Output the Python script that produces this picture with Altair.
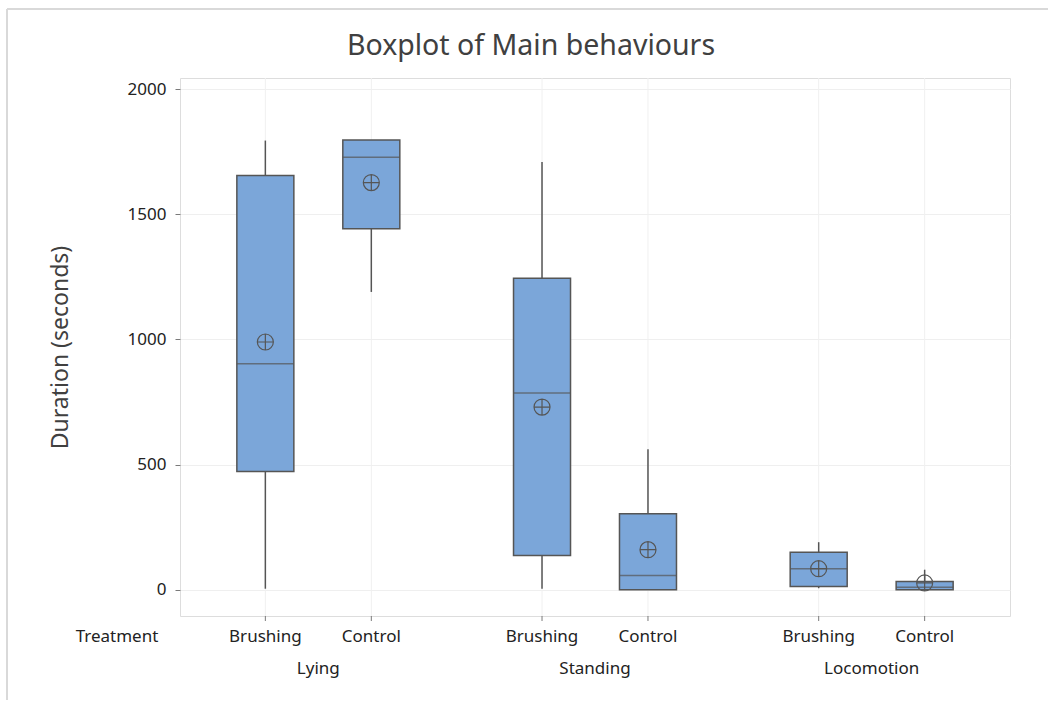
import altair as alt
import pandas as pd

# Summary statistics per behaviour / treatment (seconds)
behaviours = ["Lying", "Lying", "Standing", "Standing", "Locomotion", "Locomotion"]
treatments = ["Brushing", "Control", "Brushing", "Control", "Brushing", "Control"]
whisker_low = [4, 1190, 4, 0, 6, 0]
q1 = [472, 1443, 137, 0, 13, 0]
median = [903, 1728, 786, 57, 84, 10]
q3 = [1655, 1797, 1245, 304, 150, 33]
whisker_high = [1795, 1797, 1709, 561, 190, 80]
mean = [990, 1627, 730, 160, 84, 27]

behaviour_order = ["Lying", "Standing", "Locomotion"]
treatment_order = ["Brushing", "Control"]

df = pd.DataFrame({
    "behaviour": behaviours,
    "treatment": treatments,
    "lo": whisker_low,
    "q1": q1,
    "median": median,
    "q3": q3,
    "hi": whisker_high,
    "mean": mean,
})
groups = pd.DataFrame({"behaviour": behaviour_order})
single = pd.DataFrame({"label": ["Treatment"]})

W, H = 830, 538
FONT = "Noto Sans"
LABEL_SIZE = 17
BOX_FILL = "#7ba6d9"
EDGE = "#555555"
TEXT = "#222222"

x_enc = alt.X("behaviour:N", sort=behaviour_order, axis=None,
              scale=alt.Scale(paddingInner=0.234, paddingOuter=0.117))
xo_enc = alt.XOffset("treatment:N", sort=treatment_order,
                     scale=alt.Scale(paddingInner=0, paddingOuter=0))
y_scale = alt.Scale(domain=[-105, 2045], nice=False, zero=False)

base = alt.Chart(df).encode(x=x_enc, xOffset=xo_enc)

# vertical grid lines through each box position
vgrid = base.mark_rule(color="#f0f0f0", strokeWidth=1).encode(
    y=alt.value(0), y2=alt.value(H))

# bottom tick marks at each box position
xticks = base.mark_rule(color="#7a7a7a", strokeWidth=1).encode(
    y=alt.value(H), y2=alt.value(H + 5))

whisk_lo = base.mark_rule(color=EDGE, strokeWidth=1.5).encode(
    y=alt.Y("lo:Q", scale=y_scale,
            axis=alt.Axis(values=[0, 500, 1000, 1500, 2000], format="d",
                          title="Duration (seconds)",
                          grid=True, gridColor="#efefef", domain=False,
                          tickColor="#7a7a7a", tickSize=5, labelFontSize=LABEL_SIZE,
                          labelColor=TEXT, labelFont=FONT, labelPadding=9,
                          titleFont=FONT, titleFontSize=23, titleColor="#404040",
                          titleFontWeight="normal", titlePadding=55)),
    y2="q1:Q")
whisk_hi = base.mark_rule(color=EDGE, strokeWidth=1.5).encode(
    y=alt.Y("q3:Q", scale=y_scale), y2="hi:Q")

boxes = base.mark_bar(size=57, fill=BOX_FILL, stroke=EDGE, strokeWidth=1.5).encode(
    y=alt.Y("q1:Q", scale=y_scale), y2="q3:Q")

medians = base.mark_tick(size=57, thickness=1.5, color=EDGE, orient="horizontal").encode(
    y=alt.Y("median:Q", scale=y_scale))

# mean symbol: circle with a cross
circle_cross = "M-1,0A1,1,0,1,1,1,0A1,1,0,1,1,-1,0Z M-1,0L1,0 M0,-1L0,1"
means = base.mark_point(shape=circle_cross, size=256, filled=False,
                        color=EDGE, strokeWidth=1.2, opacity=1).encode(
    y=alt.Y("mean:Q", scale=y_scale))

treat_labels = base.mark_text(fontSize=LABEL_SIZE, font=FONT, color=TEXT).encode(
    y=alt.value(H + 21), text="treatment:N")

beh_labels = alt.Chart(groups).mark_text(fontSize=LABEL_SIZE, font=FONT, color=TEXT).encode(
    x=x_enc, y=alt.value(H + 53), text="behaviour:N")

treat_header = alt.Chart(single).mark_text(fontSize=LABEL_SIZE, font=FONT, color=TEXT,
                                           align="center").encode(
    x=alt.value(-63), y=alt.value(H + 21), text="label:N")

# light outer border of the graph window
frame_left = alt.Chart(single).mark_rule(color="#d9d9d9", strokeWidth=2).encode(
    x=alt.value(-173), y=alt.value(-69), y2=alt.value(H + 100))
frame_top = alt.Chart(single).mark_rule(color="#d9d9d9", strokeWidth=2).encode(
    x=alt.value(-173), x2=alt.value(W + 60), y=alt.value(-69))

chart = alt.layer(
    vgrid, whisk_lo, whisk_hi, boxes, medians, means, xticks,
    treat_labels, beh_labels, treat_header, frame_left, frame_top,
).properties(
    width=W,
    height=H,
    title=alt.TitleParams("Boxplot of Main behaviours", fontSize=28.5, font=FONT,
                          color="#404040", fontWeight="normal", anchor="middle",
                          frame="group", offset=-52, dx=-64),
    padding={"left": 180, "top": 78, "right": 38, "bottom": 84},
    autosize=alt.AutoSizeParams(type="none"),
).configure_view(
    stroke="#7a7a7a", strokeWidth=1.5
).configure(background="white")

chart.save("out.html", embed_options={"renderer": "svg", "actions": False})
